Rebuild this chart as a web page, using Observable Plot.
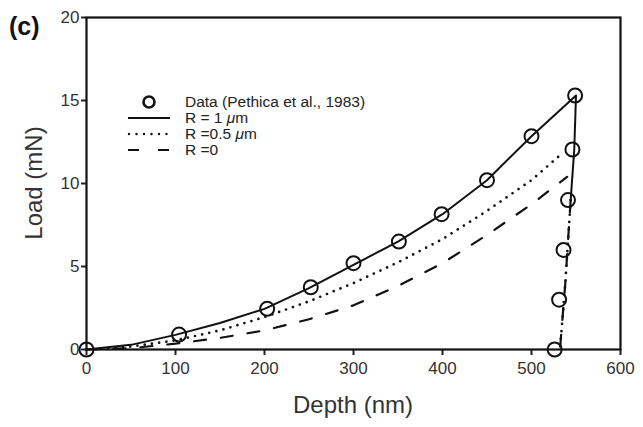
<!DOCTYPE html>
<html>
<head>
<meta charset="utf-8">
<script src="https://cdn.jsdelivr.net/npm/d3@7"></script>
<script src="https://cdn.jsdelivr.net/npm/@observablehq/plot@0.6"></script>
<style>
  html, body { margin: 0; padding: 0; background: #fff; }
  #wrap { position: relative; width: 643px; height: 427px; font-family: "Liberation Sans", Arial, sans-serif; }
  #wrap svg { font-family: "Liberation Sans", Arial, sans-serif; }
</style>
</head>
<body>
<div id="wrap"></div>
<script>
// ---- data ----
const dataDepth = [0, 104, 203, 252, 300, 351, 399, 450, 500, 549, 546, 541, 536, 531, 526];
const dataLoad  = [0, 0.9, 2.45, 3.75, 5.2, 6.5, 8.15, 10.2, 12.85, 15.3, 12.05, 9.0, 6.0, 3.0, 0];

// R = 1 µm (solid)
const r1Depth = [0, 50, 100, 150, 200, 250, 300, 350, 400, 450, 500, 550, 548, 544];
const r1Load  = [0, 0.28, 0.88, 1.6, 2.45, 3.7, 5.1, 6.5, 8.15, 10.2, 12.85, 15.3, 12.0, 9.0];

// R = 0.5 µm (dotted): loading and unloading
const r05Depth = [0, 50, 100, 150, 200, 250, 300, 350, 400, 450, 500, 532];
const r05Load  = [0, 0.18, 0.55, 1.15, 1.95, 2.9, 4.0, 5.25, 6.65, 8.35, 10.2, 11.7];
const r05UnDepth = [544, 541, 538, 535, 532];
const r05UnLoad  = [9.0, 6.5, 4.0, 2.0, 0];

// R = 0 (dashed): loading and unloading
const r0Depth = [0, 50, 100, 150, 200, 250, 300, 350, 400, 450, 500, 540];
const r0Load  = [0, 0.08, 0.35, 0.7, 1.15, 1.82, 2.66, 3.83, 5.2, 6.9, 8.75, 10.4];
const r0UnDepth = [544, 541, 538, 535, 532];
const r0UnLoad  = [9.0, 6.5, 4.0, 2.0, 0];

const xTicks = [0, 100, 200, 300, 400, 500, 600];
const yTicks = [0, 5, 10, 15, 20];

const legendLabels = ["Data (Pethica et al., 1983)", "R = 1 \u03BCm", "R =0.5 \u03BCm", "R =0"];

// ---- build tables ----
const zip = (xs, ys, key) => xs.map((x, i) => ({depth: x, load: ys[i], key}));
const pts = zip(dataDepth, dataLoad, "data");
const solid = zip(r1Depth, r1Load, "r1");
const dotted = [...zip(r05Depth, r05Load, "load"), ...zip(r05UnDepth, r05UnLoad, "unload")];
const dashed = [...zip(r0Depth, r0Load, "load"), ...zip(r0UnDepth, r0UnLoad, "unload")];

const font = "'Liberation Sans', Arial, sans-serif";

const chart = Plot.plot({
  width: 643,
  height: 427,
  marginLeft: 86,
  marginRight: 23,
  marginTop: 17,
  marginBottom: 78,
  style: {fontFamily: font, fontSize: "17px", color: "#222", background: "white"},
  x: {domain: [0, 600]},
  y: {domain: [0, 20]},
  marks: [
    Plot.line(dashed, {x: "depth", y: "load", z: "key", stroke: "#111", strokeWidth: 2.2, strokeDasharray: "12,15"}),
    Plot.line(dotted, {x: "depth", y: "load", z: "key", stroke: "#111", strokeWidth: 2.7, strokeDasharray: "0,7.3", strokeLinecap: "round"}),
    Plot.line(solid, {x: "depth", y: "load", stroke: "#111", strokeWidth: 2}),
    Plot.dot(pts, {x: "depth", y: "load", r: 7, stroke: "#111", strokeWidth: 2, fill: "none"}),
    Plot.axisX({ticks: xTicks, tickSize: 6, tickPadding: 6, strokeWidth: 2, label: null, fontSize: 17, fill: "#333"}),
    Plot.axisY({ticks: yTicks, tickSize: 5, tickPadding: 2, strokeWidth: 2, label: null, fontSize: 17, fill: "#333"}),
    Plot.frame({stroke: "#111", strokeWidth: 2.2})
  ]
});

const wrap = document.getElementById("wrap");
wrap.appendChild(chart);

const svg = d3.select(chart);
// axis titles
svg.append("text").attr("x", 353).attr("y", 413).attr("text-anchor", "middle")
  .attr("font-size", 24).attr("fill", "#333").attr("font-family", font).text("Depth (nm)");
svg.append("text").attr("transform", "translate(42,183) rotate(-90)").attr("text-anchor", "middle")
  .attr("font-size", 24).attr("fill", "#333").attr("font-family", font).text("Load (mN)");
// panel label
svg.append("text").attr("x", 9).attr("y", 35).attr("text-anchor", "start").attr("font-size", 25).attr("font-weight", "bold")
  .attr("fill", "#111").attr("font-family", font).text("(c)");

// legend
const lg = svg.append("g").attr("font-family", font).attr("font-size", 15.5).attr("fill", "#222").attr("text-anchor", "start");
const rowY = [102, 118, 134, 150];
const sx0 = 128, sx1 = 170, tx = 185;
lg.append("circle").attr("cx", (sx0 + sx1) / 2).attr("cy", rowY[0]).attr("r", 5.5)
  .attr("fill", "none").attr("stroke", "#111").attr("stroke-width", 2.6);
lg.append("line").attr("x1", sx0).attr("x2", sx1).attr("y1", rowY[1]).attr("y2", rowY[1])
  .attr("stroke", "#111").attr("stroke-width", 2.2);
lg.append("line").attr("x1", sx0 + 1).attr("x2", sx1).attr("y1", rowY[2]).attr("y2", rowY[2])
  .attr("stroke", "#111").attr("stroke-width", 2.4).attr("stroke-dasharray", "0,7.5").attr("stroke-linecap", "round");
lg.append("line").attr("x1", sx0).attr("x2", sx1).attr("y1", rowY[3]).attr("y2", rowY[3])
  .attr("stroke", "#111").attr("stroke-width", 2.2).attr("stroke-dasharray", "11,19");
legendLabels.forEach((t, i) => {
  const tEl = lg.append("text").attr("x", tx).attr("y", rowY[i]).attr("dy", "0.35em").attr("text-anchor", "start");
  const m = t.match(/^(.*?)(\u03BC)(m)$/);
  if (m) {
    tEl.append("tspan").text(m[1]);
    tEl.append("tspan").attr("font-style", "italic").text(m[2]);
    tEl.append("tspan").text(m[3]);
  } else {
    tEl.text(t);
  }
});
</script>
</body>
</html>
